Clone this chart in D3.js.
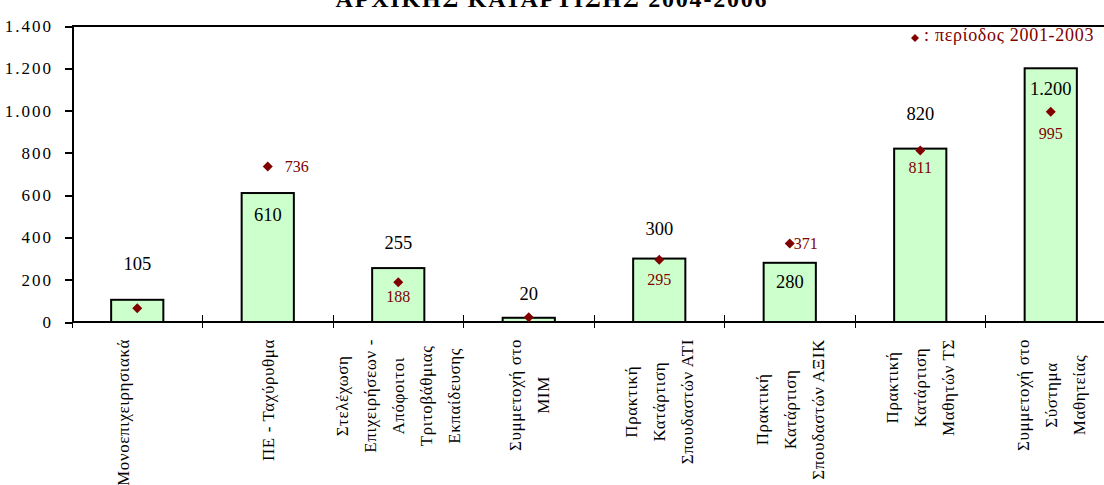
<!DOCTYPE html>
<meta charset="utf-8">
<style>
  body { margin: 0; background: #fff; }
  svg { font-family: "Liberation Serif", "Times New Roman", serif; display: block; }
  .axis { font-family: "Liberation Serif", "Times New Roman", serif; }
  .axis path, .axis line { stroke: #000; stroke-width: 2px; shape-rendering: crispEdges; }
  .axis text { font-size: 17px; fill: #000; letter-spacing: 2px; }
  .bar { fill: #ccffcc; stroke: #000; stroke-width: 2px; }
  .val { font-size: 18.5px; fill: #000; }
  .prev { fill: #800000; }
  .prevlab { font-size: 16px; fill: #800000; }
  .cat { font-size: 17px; fill: #000; letter-spacing: 0.6px; }
</style>
<body>
<script src="https://cdn.jsdelivr.net/npm/d3@7"></script>
<script>

// categories (each one split on the lines used in the picture)
var categories = [
  ["Μονοεπιχειρησιακά", ""],
  ["ΠΕ - Ταχύρυθμα"],
  ["Στελέχωση", "Επιχειρήσεων -", "Απόφοιτοι", "Τριτοβάθμιας", "Εκπαίδευσης"],
  ["Συμμετοχή στο", "ΜΙΜ"],
  ["Πρακτική", "Κατάρτιση", "Σπουδαστών ΑΤΙ"],
  ["Πρακτική", "Κατάρτιση", "Σπουδαστών ΑΞΙΚ"],
  ["Πρακτική", "Κατάρτιση", "Μαθητών ΤΣ"],
  ["Συμμετοχή στο", "Σύστημα", "Μαθητείας"]
];
// 2004-2006 (bars)
var values = [105, 610, 255, 20, 300, 280, 820, 1200];
// 2001-2003 (diamonds)
var previous = [65, 736, 188, 22, 295, 371, 811, 995];
var previousLabelled = [false, true, true, false, true, true, true, true];
var yTicks = [0, 200, 400, 600, 800, 1000, 1200, 1400];

var title = "ΑΡΧΙΚΗΣ ΚΑΤΑΡΤΙΣΗΣ 2004-2006",
    legendText = ": περίοδος 2001-2003";

// where labels sit (px from bar top / diamond), as in the picture
var valueDy = [-36, 21, -26, -24, -30, 19, -35, 20];
var prevDx = [0, 17, 0, 0, 0, 4, 0, 0],
    prevDy = [0, 0, 14, 0, 20, 0, 17, 22];

var margin = {top: 26, left: 72},
    step = 130.5,
    width = step * categories.length,
    height = 296;

var gr = d3.formatLocale({decimal: ",", thousands: ".", grouping: [3], currency: ["€", ""]});
var fmt = gr.format(",d");

var svg = d3.select("body").append("svg")
    .attr("width", 1104)
    .attr("height", 485);

svg.append("text")
    .attr("x", 552)
    .attr("y", 7)
    .attr("text-anchor", "middle")
    .style("font-size", "24px")
    .style("font-weight", "bold")
    .style("letter-spacing", "1.8px")
    .text(title);

var g = svg.append("g")
    .attr("transform", "translate(" + margin.left + "," + margin.top + ")");

var x = d3.scaleBand().domain(d3.range(categories.length)).range([0, width]);
var y = d3.scaleLinear().domain([0, 1400]).range([height, 0]);
var barW = x.bandwidth() * 0.4;
var cx = function(i) { return x(i) + x.bandwidth() / 2; };

// frame top
g.append("line")
    .attr("x1", 0).attr("x2", width)
    .attr("y1", y(1400)).attr("y2", y(1400))
    .attr("stroke", "#000").attr("stroke-width", 2);

// y axis
g.append("g")
    .attr("class", "axis")
    .call(d3.axisLeft(y).tickValues(yTicks).tickFormat(fmt).tickSize(7).tickSizeOuter(0).tickPadding(12));

// bars
g.selectAll(".bar")
    .data(values)
  .enter().append("rect")
    .attr("class", "bar")
    .attr("x", function(d, i) { return x(i) + (x.bandwidth() - barW) / 2; })
    .attr("y", function(d) { return y(d); })
    .attr("width", barW)
    .attr("height", function(d) { return height - y(d); });

// x axis: line + cross ticks at category boundaries
var xa = g.append("g").attr("class", "axis");
xa.append("line")
    .attr("x1", 0).attr("x2", width)
    .attr("y1", height).attr("y2", height);
xa.selectAll(".tk")
    .data(d3.range(categories.length + 1))
  .enter().append("line")
    .attr("x1", function(i) { return i * x.step(); })
    .attr("x2", function(i) { return i * x.step(); })
    .attr("y1", height - 7)
    .attr("y2", height + 6)
    .style("stroke-width", "1px");

// bar value labels
g.selectAll(".val")
    .data(values)
  .enter().append("text")
    .attr("class", "val")
    .attr("text-anchor", "middle")
    .attr("x", function(d, i) { return cx(i); })
    .attr("y", function(d, i) { return y(d) + valueDy[i]; })
    .attr("dy", "0.35em")
    .text(fmt);

// 2001-2003 diamonds
var diamond = d3.symbol().type(d3.symbolSquare).size(50);
g.selectAll(".prev")
    .data(previous)
  .enter().append("path")
    .attr("class", "prev")
    .attr("d", diamond)
    .attr("transform", function(d, i) {
      return "translate(" + cx(i) + "," + y(d) + ") rotate(45)";
    });

g.selectAll(".prevlab")
    .data(previous)
  .enter().append("text")
    .attr("class", "prevlab")
    .attr("text-anchor", function(d, i) { return prevDx[i] ? "start" : "middle"; })
    .attr("x", function(d, i) { return cx(i) + prevDx[i]; })
    .attr("y", function(d, i) { return y(d) + prevDy[i]; })
    .attr("dy", "0.35em")
    .text(function(d, i) { return previousLabelled[i] ? fmt(d) : ""; });

// category labels, rotated, block top-aligned, lines centred
var lineGap = 28, labTop = height + 17;
var cg = g.selectAll(".catg")
    .data(categories)
  .enter().append("g")
    .attr("transform", function(d, i) {
      return "translate(" + cx(i) + "," + labTop + ") rotate(-90)";
    });
cg.each(function(lines) {
  var sel = d3.select(this);
  var t = sel.selectAll("text")
      .data(lines)
    .enter().append("text")
      .attr("class", "cat")
      .attr("text-anchor", "middle")
      .attr("y", function(d, j) { return (j - (lines.length - 1) / 2) * lineGap; })
      .attr("dy", "0.35em")
      .text(function(d) { return d; });
  var maxLen = d3.max(t.nodes(), function(n) { return n.getComputedTextLength(); });
  t.attr("x", -maxLen / 2);
});

// legend
var lg = svg.append("g").attr("transform", "translate(915,38)");
lg.append("path")
    .attr("class", "prev")
    .attr("d", d3.symbol().type(d3.symbolSquare).size(32))
    .attr("transform", "rotate(45)");
lg.append("text")
    .attr("x", 9)
    .attr("y", -3)
    .attr("dy", "0.35em")
    .style("font-size", "18px")
    .style("letter-spacing", "0.7px")
    .style("fill", "#800000")
    .text(legendText);

</script>
